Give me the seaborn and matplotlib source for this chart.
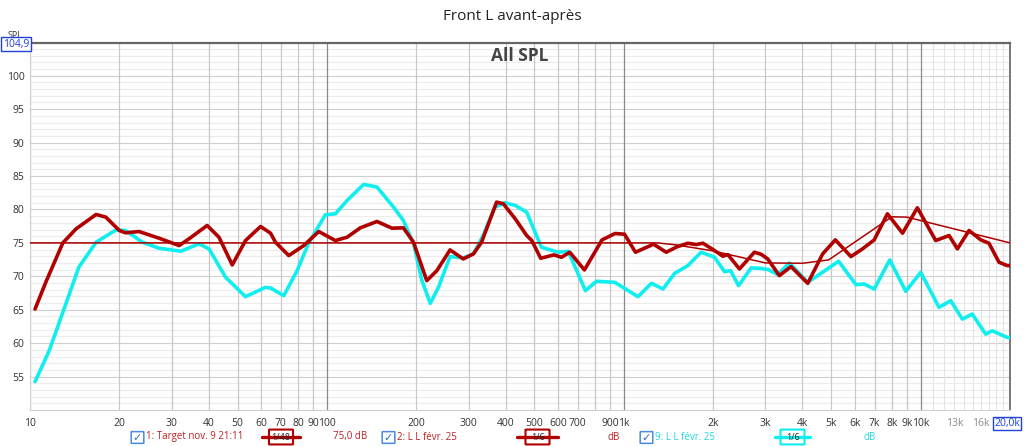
import pandas as pd
import seaborn as sns
import matplotlib.pyplot as plt
import matplotlib.transforms as mtransforms
from matplotlib.patches import FancyBboxPatch
from matplotlib.lines import Line2D

# target curve (thin red)
target_freq = [10, 1300, 1500, 2000, 3000, 4000, 4900, 8000, 9000, 20000]
target_spl = [75.0, 75.0, 74.7, 73.8, 72.0, 71.95, 72.45, 78.9, 78.85, 75.0]

# "2: L L févr. 25" (thick dark red)
red_freq = [10.4, 11.3, 12.9, 14.3, 16.7, 18.0, 20, 21, 23.3, 27.2, 31.8, 34.3, 39.5, 43.3,
            48, 53.2, 59.8, 64.6, 67.1, 74.4, 83.6, 93.9, 106.8, 117, 129.6, 147.5, 165.6,
            181, 195.8, 217, 234.7, 260, 288, 311.6, 332, 373, 393, 431, 471, 490, 525,
            582, 617, 658, 737, 845, 935, 1006, 1095, 1260, 1390, 1510, 1644, 1754, 1848,
            2022, 2157, 2242, 2453, 2754, 2900, 3055, 3343, 3660, 4166, 4677, 5160, 5824,
            6370, 6977, 7730, 8690, 9750, 11240, 12470, 13300, 14560, 15940, 16990, 18360,
            19580, 20000]
red_spl = [65.1, 69.1, 75.0, 77.1, 79.25, 78.85, 76.85, 76.5, 76.7, 75.7, 74.6, 75.6, 77.6, 75.85,
           71.7, 75.35, 77.45, 76.45, 75.1, 73.1, 74.6, 76.7, 75.35, 75.85, 77.25, 78.2, 77.2,
           77.25, 75.1, 69.35, 70.85, 73.95, 72.6, 73.35, 75.1, 81.1, 80.85, 78.6, 76.1, 75.35, 72.7,
           73.2, 72.85, 73.6, 70.95, 75.45, 76.4, 76.3, 73.6, 74.8, 73.6, 74.4, 74.95, 74.75, 74.95,
           73.85, 73.0, 73.25, 71.1, 73.6, 73.3, 72.6, 70.1, 71.45, 68.95, 73.35, 75.45, 72.95,
           74.1, 75.45, 79.35, 76.45, 80.25, 75.35, 76.1, 74.1, 76.85, 75.45, 74.95, 72.1,
           71.6, 71.6]

# "9: L L févr. 25" (thick cyan)
cyan_freq = [10.4, 11.6, 13.2, 14.6, 16.7, 19.5, 21, 23.9, 27.2, 32.2, 37.1, 40.1, 45.6, 53.2,
             62.1, 64.6, 71.6, 79.4, 86.9, 98.8, 106.8, 117, 133, 147.5, 167.7, 181, 196, 209,
             223, 237.6, 260, 288, 311.6, 336, 368, 398, 431, 471, 528, 601, 650, 743, 809, 933,
             1117, 1239, 1356, 1484, 1644, 1823, 2022, 2185, 2289, 2436, 2685, 2880, 3070, 3302,
             3614, 4166, 4618, 5294, 6054, 6450, 6977, 7870, 8910, 10010, 11530, 12630, 13820,
             14930, 16560, 17430, 19580, 20000]
cyan_spl = [54.25, 58.85, 65.85, 71.35, 75.1, 76.95, 76.85, 75.1, 74.2, 73.75, 74.85, 74.1, 69.85, 66.95,
            68.35, 68.25, 67.1, 70.85, 75.0, 79.2, 79.35, 81.35, 83.75, 83.35, 80.35, 78.35, 74.85, 69.35,
            65.95, 68.35, 72.95, 72.75, 73.35, 76.1, 80.35, 81.0, 80.6, 79.6, 74.35, 73.6, 73.75, 67.85, 69.25, 69.1,
            66.95, 68.95, 68.1, 70.45, 71.6, 73.6, 72.85, 70.7, 70.85, 68.6, 71.25, 71.2, 71.0, 70.25,
            72.0, 69.1, 70.45, 72.25, 68.75, 68.85, 68.1, 72.45, 67.75, 70.6, 65.35, 66.35, 63.6,
            64.35, 61.35, 61.85, 60.85, 60.85]

tick_freq = [10, 20, 30, 40, 50, 60, 70, 80, 90, 100, 200, 300, 400, 500, 600, 700, 900,
             1000, 2000, 3000, 4000, 5000, 6000, 7000, 8000, 9000, 10000, 13000, 16000, 20000]
tick_labels = ['10', '20', '30', '40', '50', '60', '70', '80', '90', '100', '200', '300', '400',
               '500', '600', '700', '900', '1k', '2k', '3k', '4k', '5k', '6k', '7k', '8k', '9k',
               '10k', '13k', '16k', '20,0k']
y_ticks = [55, 60, 65, 70, 75, 80, 85, 90, 95, 100]

RED = '#b00000'
CYAN = '#10eef0'
BLUE = '#2040e0'

sns.set_theme(style='white')
plt.rcParams['font.family'] = ['Open Sans', 'DejaVu Sans']


def fx(x):
    return x / 1024


def fy(y):
    return 1 - y / 447


fig = plt.figure(figsize=(10.24, 4.47), dpi=100)
ax = fig.add_axes([fx(30), fy(410), 980 / 1024, 367 / 447])
ax.set_xscale('log')
ax.set_xlim(10, 20000)
ax.set_ylim(50, 104.9)

# grid
for v in range(51, 105):
    ax.axhline(v, color='#cfcfcf' if v % 5 == 0 else '#ececec', lw=0.8, zorder=0)
for dec in [10, 100, 1000]:
    for m in range(1, 10):
        f = dec * m
        ax.axvline(f, color='#8a8a8a' if m == 1 and dec > 10 else '#c8c8c8', lw=0.9, zorder=0)
ax.axvline(10000, color='#8a8a8a', lw=0.9, zorder=0)
for f in range(11000, 20000, 1000):
    ax.axvline(f, color='#e4e4e4', lw=0.8, zorder=0)

df_t = pd.DataFrame({'freq': target_freq, 'spl': target_spl})
df_r = pd.DataFrame({'freq': red_freq, 'spl': red_spl})
df_c = pd.DataFrame({'freq': cyan_freq, 'spl': cyan_spl})
sns.lineplot(data=df_c, x='freq', y='spl', ax=ax, color=CYAN, lw=2.6, zorder=3,
             solid_joinstyle='round', solid_capstyle='round')
sns.lineplot(data=df_r, x='freq', y='spl', ax=ax, color=RED, lw=2.6, zorder=4,
             solid_joinstyle='round', solid_capstyle='round')
sns.lineplot(data=df_t, x='freq', y='spl', ax=ax, color=RED, lw=1.1, zorder=5)

ax.set_xlabel('')
ax.set_ylabel('')
ax.set_xticks(tick_freq)
ax.set_xticklabels(tick_labels)
ax.minorticks_off()
ax.set_yticks(y_ticks)
ax.tick_params(axis='both', length=0, labelsize=7.5, colors='#333333', pad=4)
ax.tick_params(axis='x', pad=6)
shift = mtransforms.ScaledTranslation(-3 / 100, 0, fig.dpi_scale_trans)
for lab in ax.get_xticklabels():
    if lab.get_text() in ('13k', '16k'):
        lab.set_color('#8c8c8c')
    if lab.get_text() == '20,0k':
        lab.set_color(BLUE)
        lab.set_transform(lab.get_transform() + shift)
        lab.set_bbox(dict(boxstyle='square,pad=0.1', fc='white', ec=BLUE, lw=1))

for side in ['left', 'bottom']:
    ax.spines[side].set_color('#d0d0d0')
    ax.spines[side].set_linewidth(0.8)
ax.spines['top'].set_color('#666666')
ax.spines['top'].set_linewidth(1.6)
ax.spines['right'].set_color('#777777')
ax.spines['right'].set_linewidth(1.4)

fig.text(0.5, fy(17), 'Front L avant-après', ha='center', va='center', fontsize=11, color='#222222')
ax.text(0.5, 0.965, 'All SPL', transform=ax.transAxes, ha='center', va='center',
        fontsize=12.5, fontweight='bold', color='#444444')
fig.text(fx(15), fy(36), 'SPL', ha='center', va='center', fontsize=6.5, color='#333333')
fig.text(fx(16), fy(44), '104,9', ha='center', va='center', fontsize=7.5, color=BLUE,
         bbox=dict(boxstyle='square,pad=0.15', fc='white', ec=BLUE, lw=1))

# legend strip
ly = fy(437)


def checkbox(x):
    fig.patches.append(FancyBboxPatch((fx(x), fy(443)), 11 / 1024, 11 / 447,
                                      boxstyle='round,pad=0.0008', transform=fig.transFigure,
                                      fc='white', ec='#4a8ae0', lw=1.1))
    fig.text(fx(x + 5.5), fy(437.5), '✓', ha='center', va='center', fontsize=8,
             color='#2f6fd0', family='DejaVu Sans', fontweight='bold')


def smooth_icon(x0, x1, label, color):
    fig.lines.append(Line2D([fx(x0), fx(x1)], [ly, ly], transform=fig.transFigure,
                            color=color, lw=2.4))
    w = 22
    xm = (x0 + x1) / 2
    fig.patches.append(FancyBboxPatch((fx(xm - w / 2), fy(444)), w / 1024, 14 / 447,
                                      boxstyle='round,pad=0.001', transform=fig.transFigure,
                                      fc='white', ec=color, lw=1.5))
    fig.text(fx(xm), ly, label, ha='center', va='center', fontsize=6.5, color='#222222')


checkbox(132)
fig.text(fx(146), ly, '1: Target nov. 9 21:11', ha='left', va='center', fontsize=7, color='#c02020')
smooth_icon(262, 300, '1/48', RED)
fig.text(fx(333), ly, '75,0 dB', ha='left', va='center', fontsize=7, color='#c02020')
checkbox(383)
fig.text(fx(397), ly, '2: L L févr. 25', ha='left', va='center', fontsize=7, color='#c02020')
smooth_icon(517, 558, '1/6', RED)
fig.text(fx(608), ly, 'dB', ha='left', va='center', fontsize=7, color='#c02020')
checkbox(641)
fig.text(fx(655), ly, '9: L L févr. 25', ha='left', va='center', fontsize=7, color='#20d8e0')
smooth_icon(775, 810, '1/6', CYAN)
fig.text(fx(863), ly, 'dB', ha='left', va='center', fontsize=7, color='#20d8e0')

fig.savefig('out.png', dpi=100)
